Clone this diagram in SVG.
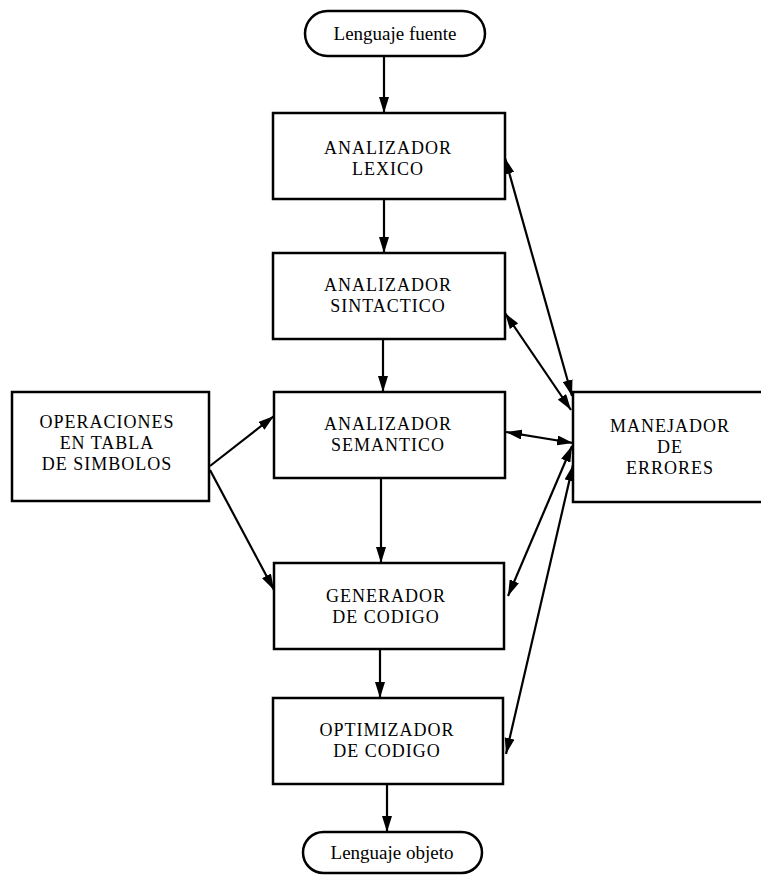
<svg xmlns="http://www.w3.org/2000/svg" width="761" height="875" viewBox="0 0 761 875">
  <style>
    .box { fill: #ffffff; stroke: #000000; stroke-width: 2.5; }
    .lbl { font-family: "Liberation Serif", "Times New Roman", serif; font-size: 18px; letter-spacing: 1px; fill: #000000; text-anchor: middle; }
    .term { font-family: "Liberation Serif", "Times New Roman", serif; font-size: 19px; fill: #000000; text-anchor: middle; }
    .edge { stroke: #000000; stroke-width: 2.2; fill: none; }
    .one { marker-end: url(#ah); }
    .two { marker-start: url(#ah); marker-end: url(#ah); }
  </style>
  <defs>
    <marker id="ah" viewBox="0 0 16 10" refX="16" refY="5" markerWidth="16" markerHeight="10" markerUnits="userSpaceOnUse" orient="auto-start-reverse">
      <path d="M0,0 L16,5 L0,10 z" fill="#000000"/>
    </marker>
  </defs>
  <rect width="761" height="875" fill="#ffffff"/>

  <!-- connectors -->
  <g id="connectors">
    <line class="edge one" x1="384" y1="57" x2="384" y2="113"/>
    <line class="edge one" x1="384" y1="199" x2="384" y2="253"/>
    <line class="edge one" x1="383" y1="339" x2="383" y2="392"/>
    <line class="edge one" x1="381" y1="478" x2="381" y2="563"/>
    <line class="edge one" x1="380" y1="649" x2="380" y2="698"/>
    <line class="edge one" x1="387" y1="784" x2="387" y2="832"/>
    <line class="edge one" x1="210" y1="466" x2="274" y2="416"/>
    <line class="edge one" x1="210" y1="470" x2="274" y2="590"/>
    <line class="edge two" x1="505" y1="158" x2="572" y2="396"/>
    <line class="edge two" x1="505" y1="313" x2="571" y2="410"/>
    <line class="edge two" x1="506" y1="432" x2="573" y2="443"/>
    <line class="edge two" x1="508" y1="596" x2="572" y2="446"/>
    <line class="edge two" x1="506" y1="754" x2="573" y2="465"/>
  </g>

  <g id="lenguaje-fuente">
    <rect class="box" x="305" y="11" width="180" height="45" rx="22.5"/>
    <text class="term" x="395" y="40">Lenguaje fuente</text>
  </g>

  <g id="analizador-lexico">
    <rect class="box" x="273" y="113" width="232" height="86"/>
    <text class="lbl" x="388" y="154">ANALIZADOR</text>
    <text class="lbl" x="388" y="175">LEXICO</text>
  </g>

  <g id="analizador-sintactico">
    <rect class="box" x="273" y="253" width="232" height="86"/>
    <text class="lbl" x="388" y="291">ANALIZADOR</text>
    <text class="lbl" x="388" y="312">SINTACTICO</text>
  </g>

  <g id="analizador-semantico">
    <rect class="box" x="274" y="392" width="231" height="86"/>
    <text class="lbl" x="388" y="430">ANALIZADOR</text>
    <text class="lbl" x="388" y="451">SEMANTICO</text>
  </g>

  <g id="generador-codigo">
    <rect class="box" x="274" y="563" width="230" height="86"/>
    <text class="lbl" x="386" y="602">GENERADOR</text>
    <text class="lbl" x="386" y="623">DE CODIGO</text>
  </g>

  <g id="optimizador-codigo">
    <rect class="box" x="273" y="698" width="230" height="86"/>
    <text class="lbl" x="387" y="736">OPTIMIZADOR</text>
    <text class="lbl" x="387" y="757">DE CODIGO</text>
  </g>

  <g id="lenguaje-objeto">
    <rect class="box" x="303" y="832" width="179" height="41" rx="20.5"/>
    <text class="term" x="392" y="859">Lenguaje objeto</text>
  </g>

  <g id="tabla-simbolos">
    <rect class="box" x="12" y="392" width="197" height="109"/>
    <text class="lbl" x="107" y="428">OPERACIONES</text>
    <text class="lbl" x="107" y="449">EN TABLA</text>
    <text class="lbl" x="107" y="470">DE SIMBOLOS</text>
  </g>

  <g id="manejador-errores">
    <rect class="box" x="573" y="392" width="200" height="110"/>
    <text class="lbl" x="670" y="432">MANEJADOR</text>
    <text class="lbl" x="670" y="453">DE</text>
    <text class="lbl" x="670" y="474">ERRORES</text>
  </g>
</svg>
